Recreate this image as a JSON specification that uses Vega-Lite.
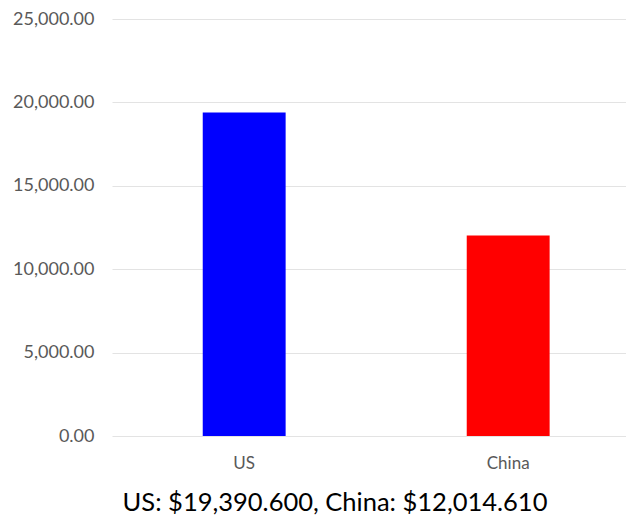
{
  "$schema": "https://vega.github.io/schema/vega-lite/v6.json",
  "width": 514,
  "height": 417,
  "autosize": {"type": "none"},
  "padding": {"left": 112, "top": 19, "right": 0, "bottom": 84},
  "background": "white",
  "config": {"view": {"stroke": null}, "font": "Lato"},
  "title": {
    "text": "US: $19,390.600, China: $12,014.610",
    "orient": "bottom",
    "anchor": "middle",
    "fontSize": 25.5,
    "fontWeight": "normal",
    "font": "Lato",
    "color": "#000000",
    "dx": -34,
    "offset": 20
  },
  "data": {
    "values": [
      {"country": "US", "gdp": 19390.6},
      {"country": "China", "gdp": 12014.61}
    ]
  },
  "mark": {"type": "bar"},
  "encoding": {
    "x": {
      "field": "country",
      "type": "nominal",
      "sort": ["US", "China"],
      "scale": {"paddingInner": 0.686, "paddingOuter": 0.3165, "align": 0.543},
      "axis": {
        "title": null,
        "labelAngle": 0,
        "domain": false,
        "ticks": false,
        "labelFontSize": 17,
        "labelColor": "#595959",
        "labelPadding": 19,
        "labelFont": "Lato"
      }
    },
    "y": {
      "field": "gdp",
      "type": "quantitative",
      "scale": {"domain": [0, 25000], "nice": false},
      "axis": {
        "title": null,
        "values": [0, 5000, 10000, 15000, 20000, 25000],
        "format": ",.2f",
        "domain": false,
        "ticks": false,
        "labelFontSize": 18,
        "labelColor": "#595959",
        "labelPadding": 18,
        "labelFont": "Lato",
        "gridColor": "#e3e3e3",
        "gridWidth": 1
      }
    },
    "color": {
      "field": "country",
      "type": "nominal",
      "scale": {"domain": ["US", "China"], "range": ["#0000FF", "#FF0000"]},
      "legend": null
    }
  }
}
